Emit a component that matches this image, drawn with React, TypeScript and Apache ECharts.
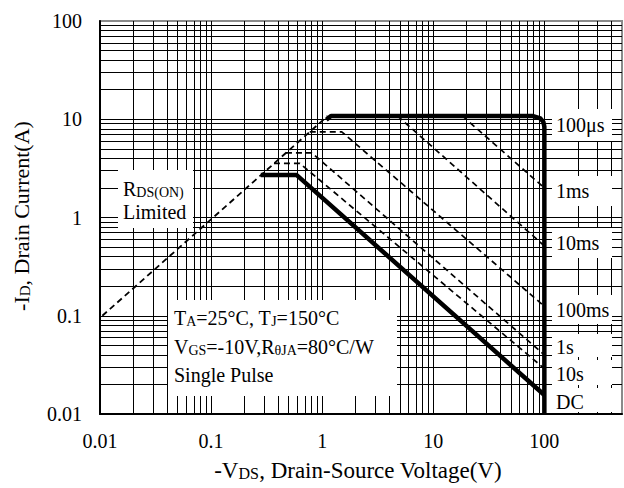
import React, { useEffect, useRef } from "react";
import * as echarts from "echarts";

// Axis ticks
const xTickValues = [0.01, 0.1, 1, 10, 100];
const xTickLabels = ["0.01", "0.1", "1", "10", "100"];
const yTickValues = [0.01, 0.1, 1, 10, 100];
const yTickLabels = ["0.01", "0.1", "1", "10", "100"];

// Grid decades / multipliers (log paper)
const gridDecades = [0.01, 0.1, 1, 10, 100];
const gridMultipliers = [1, 2, 3, 4, 5, 6, 7, 8, 9];

// Curves: [VDS (V), ID (A)]
const rdsLimit = [[0.0105, 0.1], [1.12, 10.8]];
const limit100us = [[1.09, 9.9], [1.2, 10.8], [78, 10.8], [92, 10.2], [98, 9.4], [100, 8.4], [100, 0.01]];
const limit1ms = [[18.3, 10.8], [100, 2.0]];
const limit10ms = [[4.76, 10.8], [100, 0.514]];
const limit100ms = [[0.773, 7.45], [1.5, 7.45], [100, 0.125]];
const limit1s = [[0.472, 4.55], [0.807, 4.55], [100, 0.04]];
const limit10s = [[0.368, 3.55], [0.63, 3.55], [100, 0.029]];
const limitDC = [[0.28, 2.7], [0.59, 2.7], [100, 0.0156]];

const curveLabels = ["100μs", "1ms", "10ms", "100ms", "1s", "10s", "DC"];

const FONT = '"Liberation Serif", "DejaVu Serif", "Times New Roman", serif';

function tickFormatter(values: number[], labels: string[]) {
  return (v: number) => {
    for (let i = 0; i < values.length; i++) {
      if (Math.abs(Math.log10(v) - Math.log10(values[i])) < 1e-6) return labels[i];
    }
    return "";
  };
}

export default function App() {
  const ref = useRef<HTMLDivElement>(null);

  useEffect(() => {
    if (!ref.current) return;
    const chart = echarts.init(ref.current, null, { renderer: "svg" });

    const vLines: any[] = [];
    const hLines: any[] = [];
    gridDecades.forEach((d) => {
      gridMultipliers.forEach((k) => {
        const v = k * d;
        if (v > 0.0100001 && v < 499.999) vLines.push({ xAxis: v });
        if (v > 0.0100001 && v < 99.999) hLines.push({ yAxis: v });
      });
    });

    const dashed = (name: string, data: number[][], width = 1.7) => ({
      name,
      type: "line",
      data,
      showSymbol: false,
      symbol: "none",
      silent: true,
      z: 60,
      lineStyle: { color: "#000", width, type: [6, 4] },
    });
    const solid = (name: string, data: number[][]) => ({
      name,
      type: "line",
      data,
      showSymbol: false,
      symbol: "none",
      silent: true,
      z: 61,
      lineStyle: { color: "#000", width: 4.5, type: "solid", join: "round", cap: "butt" },
    });

    const small = { fontSize: 14, fontFamily: FONT, fill: "#000", color: "#000", verticalAlign: "bottom" };
    const big = { fontSize: 20, fontFamily: FONT, fill: "#000", color: "#000", verticalAlign: "bottom" };
    const rich = { s: small, b: big };

    const whiteRect = (x: number, y: number, w: number, h: number) => ({
      type: "rect",
      z: 50,
      silent: true,
      shape: { x, y, width: w, height: h },
      style: { fill: "#fff" },
    });
    const txt = (x: number, y: number, text: string, extra: any = {}) => ({
      type: "text",
      z: 51,
      silent: true,
      x,
      y,
      style: {
        text,
        rich,
        fontSize: 20,
        fontFamily: FONT,
        fill: "#000",
        align: "left",
        verticalAlign: "middle",
        ...extra,
      },
    });

    const labelYs = [125, 191, 243, 310, 347, 374, 402];
    const labelBoxes = [
      [109, 32], [176, 30], [228, 30], [295, 29], [334, 23], [360, 25], [388, 24],
    ];

    const graphic: any[] = [
      whiteRect(118, 170, 75, 58),
      txt(123, 189, "{b|R}{s|DS(ON)}"),
      txt(123, 212, "{b|Limited}"),
      whiteRect(168, 300, 229, 96),
      txt(174, 318, "{b|T}{s|A}{b|=25°C, T}{s|J}{b|=150°C}"),
      txt(174, 347, "{b|V}{s|GS}{b|=-10V,R}{s|θJA}{b|=80°C/W}"),
      txt(174, 375, "{b|Single Pulse}"),
    ];
    curveLabels.forEach((lab, i) => {
      graphic.push(whiteRect(552, labelBoxes[i][0], 60, labelBoxes[i][1]));
      graphic.push(txt(556, labelYs[i], "{b|" + lab + "}"));
    });
    graphic.push({
      type: "text",
      z: 51,
      silent: true,
      x: 358,
      y: 470,
      style: {
        text: "{b|-V}{s|DS}{b|, Drain-Source Voltage(V)}",
        rich: { b: { ...big, fontSize: 23 }, s: { ...small, fontSize: 16 } },
        align: "center",
        verticalAlign: "middle",
        fill: "#000",
      },
    });
    graphic.push({
      type: "text",
      z: 51,
      silent: true,
      x: 21,
      y: 216,
      rotation: Math.PI / 2,
      style: {
        text: "{b|-I}{s|D}{b|, Drain Current(A)}",
        rich: { b: { ...big, fontSize: 22 }, s: { ...small, fontSize: 15 } },
        align: "center",
        verticalAlign: "middle",
        fill: "#000",
      },
    });

    const option: any = {
      animation: false,
      backgroundColor: "#fff",
      grid: {
        left: 100,
        right: 2,
        top: 21,
        bottom: 74,
        show: true,
        borderColor: "#8a8a8a",
        borderWidth: 2,
        backgroundColor: "transparent",
        containLabel: false,
      },
      xAxis: {
        type: "log",
        logBase: 10,
        min: 0.01,
        max: 500,
        z: 70,
        axisLine: { show: true, onZero: false, lineStyle: { color: "#000", width: 2 } },
        axisTick: { show: false },
        splitLine: { show: false },
        minorTick: { show: false },
        axisLabel: {
          show: true,
          margin: 17,
          fontSize: 20,
          fontFamily: FONT,
          color: "#000",
          showMaxLabel: false,
          formatter: tickFormatter(xTickValues, xTickLabels),
        },
      },
      yAxis: {
        type: "log",
        logBase: 10,
        min: 0.01,
        max: 100,
        z: 70,
        axisLine: { show: true, onZero: false, lineStyle: { color: "#000", width: 2 } },
        axisTick: { show: false },
        splitLine: { show: false },
        minorTick: { show: false },
        axisLabel: {
          show: true,
          margin: 18,
          fontSize: 20,
          fontFamily: FONT,
          color: "#000",
          formatter: tickFormatter(yTickValues, yTickLabels),
        },
      },
      graphic,
      series: [
        {
          name: "grid",
          type: "line",
          data: [],
          silent: true,
          z: 1,
          markLine: {
            silent: true,
            animation: false,
            z: 1,
            symbol: ["none", "none"],
            label: { show: false },
            emphasis: { disabled: true },
            lineStyle: { color: "#000", width: 1, type: "solid" },
            data: [...vLines, ...hLines],
          },
        },
        dashed("RDS(ON) Limited", rdsLimit, 1.8),
        dashed("1ms", limit1ms),
        dashed("10ms", limit10ms),
        dashed("100ms", limit100ms),
        dashed("1s", limit1s),
        dashed("10s", limit10s),
        solid("100μs", limit100us),
        solid("DC", limitDC),
      ],
    };
    chart.setOption(option);
    return () => chart.dispose();
  }, []);

  return (
    <div
      ref={ref}
      style={{ position: "fixed", left: 0, top: 0, width: 624, height: 488, background: "#fff" }}
    />
  );
}
